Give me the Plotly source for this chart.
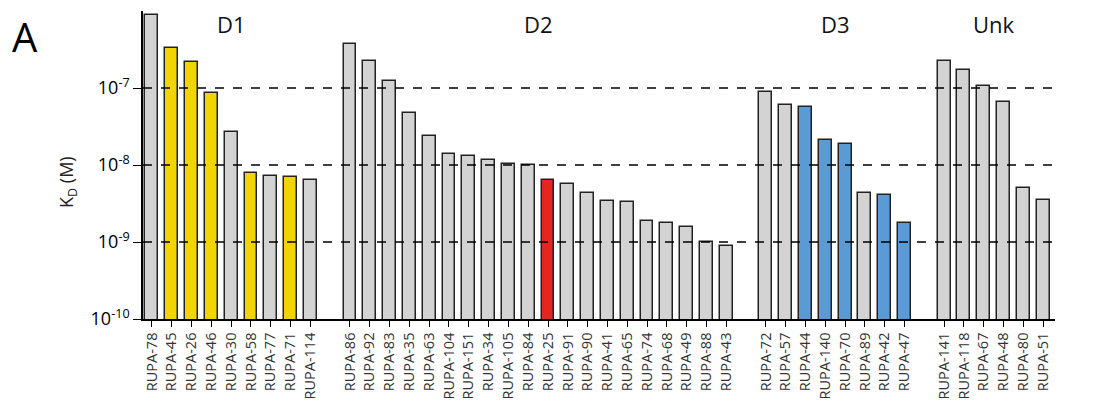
import plotly.graph_objects as go

# ---- data ----
groups = ["D1", "D2", "D3", "Unk"]
d1_labels = ["RUPA-78", "RUPA-45", "RUPA-26", "RUPA-46", "RUPA-30", "RUPA-58", "RUPA-77", "RUPA-71", "RUPA-114"]
d1_kd = [8.8e-7, 3.3e-7, 2.2e-7, 8.7e-8, 2.7e-8, 7.9e-9, 7.3e-9, 7.0e-9, 6.3e-9]
d1_hi = ["gray", "yellow", "yellow", "yellow", "gray", "yellow", "gray", "yellow", "gray"]

d2_labels = ["RUPA-86", "RUPA-92", "RUPA-83", "RUPA-35", "RUPA-63", "RUPA-104", "RUPA-151", "RUPA-34",
             "RUPA-105", "RUPA-84", "RUPA-25", "RUPA-91", "RUPA-90", "RUPA-41", "RUPA-65", "RUPA-74",
             "RUPA-68", "RUPA-49", "RUPA-88", "RUPA-43"]
d2_kd = [3.7e-7, 2.27e-7, 1.23e-7, 4.8e-8, 2.4e-8, 1.38e-8, 1.31e-8, 1.16e-8,
         1.04e-8, 1.0e-8, 6.4e-9, 5.7e-9, 4.3e-9, 3.4e-9, 3.3e-9, 1.87e-9,
         1.74e-9, 1.58e-9, 1.0e-9, 8.9e-10]
d2_hi = ["gray"] * 10 + ["red"] + ["gray"] * 9

d3_labels = ["RUPA-72", "RUPA-57", "RUPA-44", "RUPA-140", "RUPA-70", "RUPA-89", "RUPA-42", "RUPA-47"]
d3_kd = [8.8e-8, 6.0e-8, 5.7e-8, 2.1e-8, 1.86e-8, 4.3e-9, 4.1e-9, 1.78e-9]
d3_hi = ["gray", "gray", "blue", "blue", "blue", "gray", "blue", "blue"]

unk_labels = ["RUPA-141", "RUPA-118", "RUPA-67", "RUPA-48", "RUPA-80", "RUPA-51"]
unk_kd = [2.24e-7, 1.73e-7, 1.05e-7, 6.5e-8, 5.1e-9, 3.5e-9]
unk_hi = ["gray"] * 6

ref_lines = [1e-7, 1e-8, 1e-9]
ref_texts = ["100 nM", "10 nM", "1 nM"]
ytick_vals = [1e-10, 1e-9, 1e-8, 1e-7]
ytick_text = ["10<sup>-10</sup>", "10<sup>-9</sup>", "10<sup>-8</sup>", "10<sup>-7</sup>"]

palette = {"gray": "#D3D3D3", "yellow": "#F2D500", "red": "#E3261F", "blue": "#5B9BD5"}

# ---- build positions (one empty slot between groups) ----
all_labels, all_kd, all_col, all_x = [], [], [], []
group_centers = []
pos = 0
for labs, kd, hi in [(d1_labels, d1_kd, d1_hi), (d2_labels, d2_kd, d2_hi),
                     (d3_labels, d3_kd, d3_hi), (unk_labels, unk_kd, unk_hi)]:
    xs = list(range(pos, pos + len(labs)))
    group_centers.append((xs[0] + xs[-1]) / 2)
    all_x += xs
    all_labels += labs
    all_kd += kd
    all_col += [palette[h] for h in hi]
    pos += len(labs) + 1

fig = go.Figure()
fig.add_trace(go.Bar(
    x=all_x, y=all_kd, width=0.65,
    marker=dict(color=all_col, line=dict(color="#222222", width=1.5)),
    showlegend=False, hoverinfo="x+y",
))

xr = [-0.45, all_x[-1] + 0.6]
for v, t in zip(ref_lines, ref_texts):
    fig.add_shape(type="line", xref="x", yref="y", x0=xr[0], x1=xr[1], y0=v, y1=v,
                  line=dict(color="black", width=1.3, dash="dash"), layer="above")
    fig.add_annotation(x=xr[1], y=v, xref="x", yref="y", text=t, showarrow=False,
                       xanchor="left", xshift=1, font=dict(size=14, color="#111"))

for g, c in zip(groups, group_centers):
    fig.add_annotation(x=c, y=0.958, xref="x", yref="paper", text=g, showarrow=False,
                       yanchor="middle", borderpad=0, font=dict(size=22, color="#111"))

fig.add_annotation(x=-0.129, y=1.0095, xref="paper", yref="paper", text="A", showarrow=False,
                   xanchor="center", yanchor="top", borderpad=0, font=dict(size=40, color="black"))

fig.add_annotation(x=-0.0822, y=0.445, xref="paper", yref="paper", text="K<sub>D</sub> (M)",
                   showarrow=False, textangle=-90, xanchor="center", yanchor="middle",
                   font=dict(size=18, color="#222"))

fig.update_layout(
    width=1107, height=397,
    margin=dict(l=135, r=60, t=3, b=86),
    paper_bgcolor="white", plot_bgcolor="white",
    font=dict(family="Open Sans, sans-serif", color="#222"),
    bargap=0,
    xaxis=dict(
        range=xr, tickmode="array", tickvals=all_x, ticktext=all_labels,
        tickangle=-90, ticks="outside", ticklen=6, tickwidth=1.3, tickcolor="black",
        tickfont=dict(size=14.5, color="#333"),
        showline=True, linecolor="black", linewidth=1.5, showgrid=False, zeroline=False,
    ),
    yaxis=dict(
        type="log", range=[-10, -6], tickmode="array", tickvals=ytick_vals, ticktext=ytick_text,
        ticks="outside", ticklen=8, tickwidth=1.3, tickcolor="black",
        tickfont=dict(size=18, color="black"),
        showline=True, linecolor="black", linewidth=1.5, showgrid=False, zeroline=False,
    ),
)

fig.write_html("out.html")
